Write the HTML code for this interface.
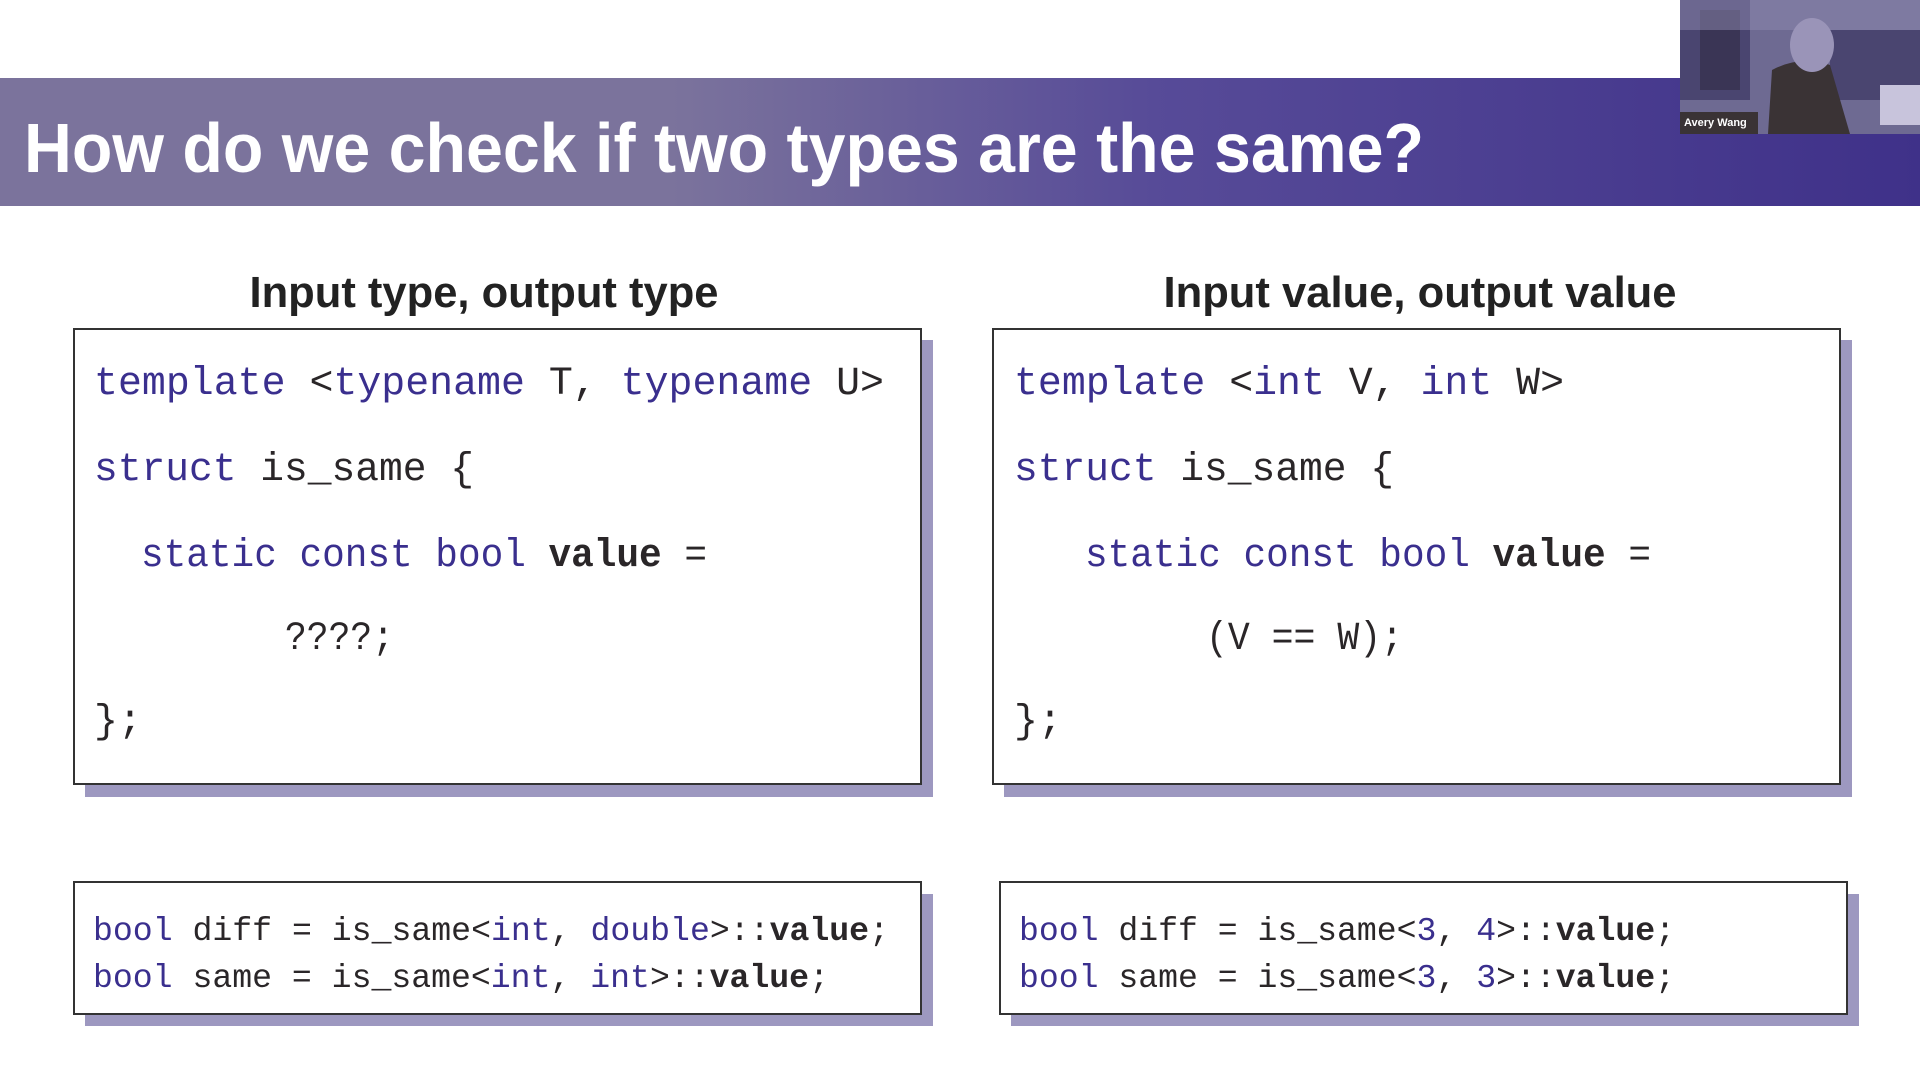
<!DOCTYPE html>
<html><head><meta charset="utf-8"><style>
html,body{margin:0;padding:0;background:#fff;}
svg{display:block}
.k{fill:#3a2f8e}
.d{fill:#2a2628}
.b{font-weight:bold}
</style></head><body>
<svg width="1920" height="1080" viewBox="0 0 1920 1080" xmlns="http://www.w3.org/2000/svg">
<defs>
<linearGradient id="g" x1="0" x2="1" y1="0" y2="0">
<stop offset="0" stop-color="#7b739c"/>
<stop offset="0.35" stop-color="#7b739c"/>
<stop offset="0.6" stop-color="#574b98"/>
<stop offset="1" stop-color="#3f3189"/>
</linearGradient>
</defs>
<rect x="0" y="0" width="1920" height="1080" fill="#fff"/>
<rect x="0" y="78" width="1920" height="128" fill="url(#g)"/>
<text x="24" y="172" font-family="Liberation Sans, sans-serif" font-weight="bold" font-size="70" fill="#fff" textLength="1400" lengthAdjust="spacingAndGlyphs">How do we check if two types are the same?</text>

<!-- webcam -->
<rect x="1680" y="0" width="240" height="134" fill="#6e6a92"/>
<rect x="1680" y="0" width="70" height="100" fill="#4a4570"/>
<rect x="1700" y="10" width="40" height="80" fill="#3a3555"/>
<rect x="1830" y="30" width="90" height="70" fill="#4a4570"/>
<rect x="1680" y="0" width="240" height="30" fill="#8e8ab0" opacity="0.5"/>
<path d="M1768 134 L1772 70 Q1800 55 1830 65 L1850 134 Z" fill="#3a3335"/>
<ellipse cx="1812" cy="45" rx="22" ry="27" fill="#9a94b8"/>
<rect x="1880" y="85" width="40" height="40" fill="#c8c4dc"/>
<rect x="1680" y="112" width="78" height="22" fill="#3a3335"/>
<text x="1684" y="126" font-family="Liberation Sans, sans-serif" font-weight="bold" font-size="11" fill="#fff">Avery Wang</text>

<!-- headings -->
<text x="484" y="307" text-anchor="middle" font-family="Liberation Sans, sans-serif" font-weight="bold" font-size="44" fill="#222" textLength="469" lengthAdjust="spacingAndGlyphs">Input type, output type</text>
<text x="1420" y="307" text-anchor="middle" font-family="Liberation Sans, sans-serif" font-weight="bold" font-size="44" fill="#222" textLength="513" lengthAdjust="spacingAndGlyphs">Input value, output value</text>

<!-- shadows -->
<rect x="85" y="340" width="848" height="457" fill="#9d98c0"/>
<rect x="1004" y="340" width="848" height="457" fill="#9d98c0"/>
<rect x="85" y="894" width="848" height="132" fill="#9d98c0"/>
<rect x="1011" y="894" width="848" height="132" fill="#9d98c0"/>
<!-- boxes -->
<rect x="74" y="329" width="847" height="455" fill="#fff" stroke="#333" stroke-width="2"/>
<rect x="993" y="329" width="847" height="455" fill="#fff" stroke="#333" stroke-width="2"/>
<rect x="74" y="882" width="847" height="132" fill="#fff" stroke="#333" stroke-width="2"/>
<rect x="1000" y="882" width="847" height="132" fill="#fff" stroke="#333" stroke-width="2"/>

<g font-family="Liberation Mono, DejaVu Sans Mono, monospace" font-size="40" xml:space="preserve">
<text x="94" y="394" textLength="790" lengthAdjust="spacingAndGlyphs"><tspan class="k">template</tspan><tspan class="d"> &lt;</tspan><tspan class="k">typename</tspan><tspan class="d"> T, </tspan><tspan class="k">typename</tspan><tspan class="d"> U&gt;</tspan></text>
<text x="94" y="480" textLength="380" lengthAdjust="spacingAndGlyphs"><tspan class="k">struct</tspan><tspan class="d"> is_same {</tspan></text>
<text x="141" y="566" textLength="566" lengthAdjust="spacingAndGlyphs"><tspan class="k">static const bool</tspan><tspan class="d b"> value</tspan><tspan class="d"> =</tspan></text>
<text x="285" y="649" class="d" textLength="109" lengthAdjust="spacingAndGlyphs">????;</text>
<text x="94" y="732" class="d">};</text>

<text x="1014" y="394" textLength="550" lengthAdjust="spacingAndGlyphs"><tspan class="k">template</tspan><tspan class="d"> &lt;</tspan><tspan class="k">int</tspan><tspan class="d"> V, </tspan><tspan class="k">int</tspan><tspan class="d"> W&gt;</tspan></text>
<text x="1014" y="480" textLength="380" lengthAdjust="spacingAndGlyphs"><tspan class="k">struct</tspan><tspan class="d"> is_same {</tspan></text>
<text x="1085" y="566" textLength="566" lengthAdjust="spacingAndGlyphs"><tspan class="k">static const bool</tspan><tspan class="d b"> value</tspan><tspan class="d"> =</tspan></text>
<text x="1206" y="649" class="d" textLength="197" lengthAdjust="spacingAndGlyphs">(V == W);</text>
<text x="1014" y="732" class="d">};</text>
</g>

<g font-family="Liberation Mono, DejaVu Sans Mono, monospace" font-size="33" xml:space="preserve">
<text x="93" y="940" textLength="796" lengthAdjust="spacingAndGlyphs"><tspan class="k">bool</tspan><tspan class="d"> diff = is_same&lt;</tspan><tspan class="k">int</tspan><tspan class="d">, </tspan><tspan class="k">double</tspan><tspan class="d">&gt;::</tspan><tspan class="d b">value</tspan><tspan class="d">;</tspan></text>
<text x="93" y="987" textLength="736" lengthAdjust="spacingAndGlyphs"><tspan class="k">bool</tspan><tspan class="d"> same = is_same&lt;</tspan><tspan class="k">int</tspan><tspan class="d">, </tspan><tspan class="k">int</tspan><tspan class="d">&gt;::</tspan><tspan class="d b">value</tspan><tspan class="d">;</tspan></text>
<text x="1019" y="940" textLength="656" lengthAdjust="spacingAndGlyphs"><tspan class="k">bool</tspan><tspan class="d"> diff = is_same&lt;</tspan><tspan class="k">3</tspan><tspan class="d">, </tspan><tspan class="k">4</tspan><tspan class="d">&gt;::</tspan><tspan class="d b">value</tspan><tspan class="d">;</tspan></text>
<text x="1019" y="987" textLength="656" lengthAdjust="spacingAndGlyphs"><tspan class="k">bool</tspan><tspan class="d"> same = is_same&lt;</tspan><tspan class="k">3</tspan><tspan class="d">, </tspan><tspan class="k">3</tspan><tspan class="d">&gt;::</tspan><tspan class="d b">value</tspan><tspan class="d">;</tspan></text>
</g>
</svg>
</body></html>
